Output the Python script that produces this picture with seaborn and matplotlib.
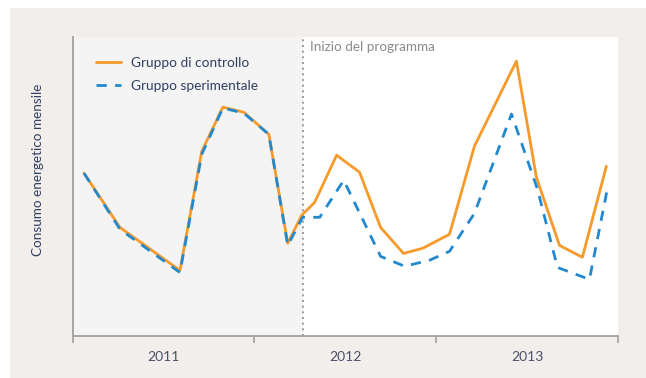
import matplotlib
matplotlib.use("Agg")
import matplotlib.pyplot as plt
import matplotlib.transforms as mtransforms
from matplotlib.patches import Rectangle
import seaborn as sns
import pandas as pd

# ---- data ----
anni_controllo = [2011.062, 2011.260, 2011.590, 2011.710, 2011.826, 2011.941, 2012.079, 2012.183,
                  2012.260, 2012.331, 2012.452, 2012.578, 2012.694, 2012.820, 2012.925, 2013.073,
                  2013.210, 2013.441, 2013.551, 2013.678, 2013.804, 2013.936]
consumo_controllo = [54.4, 36.2, 21.8, 61.7, 76.5, 74.8, 67.4, 30.9,
                     40.3, 44.6, 60.4, 54.7, 36.2, 27.5, 29.2, 33.9,
                     63.4, 91.9, 53.0, 30.2, 26.2, 56.7]

anni_sperimentale = [2011.062, 2011.260, 2011.590, 2011.710, 2011.826, 2011.941, 2012.079, 2012.183,
                     2012.265, 2012.359, 2012.491, 2012.694, 2012.826, 2012.963, 2013.073, 2013.210,
                     2013.414, 2013.557, 2013.667, 2013.843, 2013.941]
consumo_sperimentale = [54.4, 35.6, 21.1, 60.7, 76.2, 74.5, 67.4, 30.2,
                        39.6, 39.6, 52.0, 26.5, 23.2, 25.2, 28.2, 40.9,
                        74.2, 49.0, 22.8, 18.8, 49.0]

gruppi = ["Gruppo di controllo", "Gruppo sperimentale"]
anni_etichette = ["2011", "2012", "2013"]
inizio_programma = 2012.265
testo_inizio = "Inizio del programma"
etichetta_y = "Consumo energetico mensile"

df = pd.DataFrame({
    "anno": anni_controllo + anni_sperimentale,
    "consumo": consumo_controllo + consumo_sperimentale,
    "gruppo": [gruppi[0]] * len(anni_controllo) + [gruppi[1]] * len(anni_sperimentale),
})

# ---- style ----
sns.set_style("white")
plt.rcParams["font.family"] = ["Lato", "DejaVu Sans"]

ORANGE = "#f59a2b"
BLUE = "#2289cf"
NAVY = "#2f3f62"
BEIGE = "#f2eeeb"
SHADE = "#f4f4f4"
SPINE = "#a0a0a0"

fig = plt.figure(figsize=(6.46, 3.78), dpi=100, facecolor="white")
fig.patches.append(Rectangle((10 / 646, 0), 1, (378 - 8) / 378, transform=fig.transFigure,
                             facecolor=BEIGE, edgecolor="none", zorder=-10))
ax = fig.add_axes([72.7 / 646, (378 - 335.5) / 378, (618 - 72.7) / 646, (335.5 - 37) / 378])
ax.set_facecolor("white")

ax.axvspan(2011, inizio_programma, color=SHADE, zorder=0, lw=0)
ax.axvline(inizio_programma, color="#8c8c8c", lw=1.2, ls=(0, (1.2, 2.2)), zorder=1)

sns.lineplot(data=df, x="anno", y="consumo", hue="gruppo", style="gruppo",
             palette={gruppi[0]: ORANGE, gruppi[1]: BLUE},
             dashes={gruppi[0]: "", gruppi[1]: (3.7, 3.0)},
             linewidth=2.0, ax=ax, zorder=3, sort=False)

ax.set_xlim(2011, 2014)
ax.set_ylim(0, 100)
ax.set_xlabel("")
ax.set_ylabel("")

for s in ["top", "right"]:
    ax.spines[s].set_visible(False)
for s in ["left", "bottom"]:
    ax.spines[s].set_color(SPINE)
    ax.spines[s].set_linewidth(1.3)

ax.set_yticks([])
ax.set_xticks([2011, 2012, 2013, 2014])
ax.set_xticklabels([])
ax.set_xticks([2011.5, 2012.5, 2013.5], minor=True)
ax.set_xticklabels(anni_etichette, minor=True)
ax.tick_params(axis="x", which="major", length=5, width=1.2, color=SPINE, direction="out", bottom=True)
ax.tick_params(axis="x", which="minor", length=0, pad=11, labelsize=10, labelcolor="#4b5168")

trans = mtransforms.blended_transform_factory(ax.transData, ax.transAxes)
ax.text(inizio_programma + 7 / 182, 0.965, testo_inizio, transform=trans, ha="left", va="center",
        fontsize=9.7, color="#8a8a8a")

leg = ax.legend(loc="upper left", bbox_to_anchor=(0.02, 0.975), frameon=False,
                fontsize=9.8, handlelength=1.85, handletextpad=0.75, labelspacing=0.8)
for t in leg.get_texts():
    t.set_color(NAVY)

fig.text(38 / 646, 1 - 170 / 378, etichetta_y, rotation=90, ha="center", va="center",
         fontsize=9.7, color=NAVY)

fig.savefig("out.png", dpi=100, facecolor=fig.get_facecolor())
